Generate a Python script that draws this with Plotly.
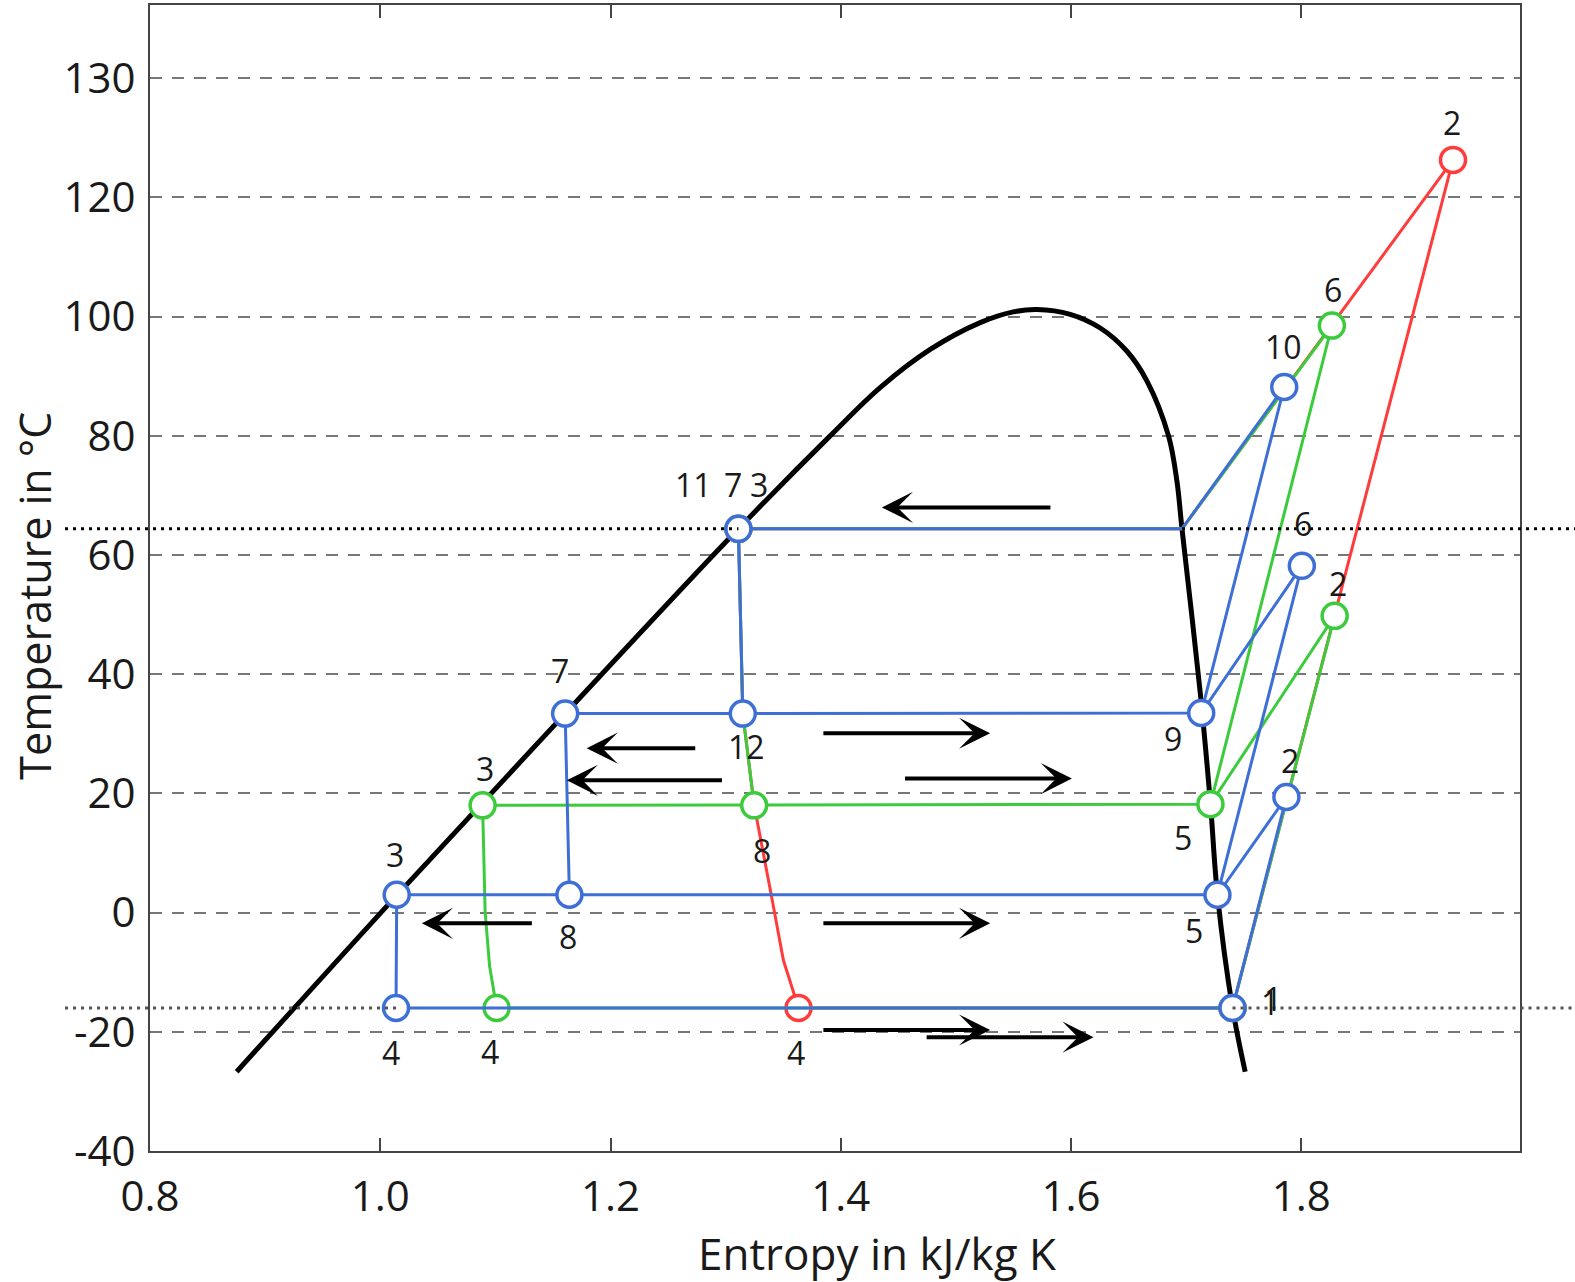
import plotly.graph_objects as go

# ---------------- data ----------------
# saturation dome (liquid branch -> critical point -> vapour branch)
dome_s = [0.8753, 1.0143, 1.1606, 1.3111, 1.3908, 1.4342, 1.4777, 1.5211, 1.5498, 1.5704,
          1.5993, 1.6254, 1.6486, 1.6660, 1.6847, 1.6920, 1.6964, 1.7123, 1.7211,
          1.7272, 1.7403, 1.7513]
dome_T = [-26.7, 2.9, 33.4, 64.4, 80.0, 88.1, 94.5, 99.0, 100.8, 101.2,
          100.4, 98.1, 94.2, 89.2, 80.0, 72.4, 64.4, 36.8, 18.3,
          3.0, -16.0, -26.7]

# state points: single stage (red)
red_id = ['1', '2', '3', '4']
red_s = [1.7403, 1.9318, 1.3111, 1.3633]
red_T = [-16.0, 126.3, 64.4, -16.0]

# two stage (green)
green_id = ['1', '2', '3', '4', '5', '6', '7', '8']
green_s = [1.7403, 1.8290, 1.0889, 1.1011, 1.7211, 1.8266, 1.3111, 1.3248]
green_T = [-16.0, 49.8, 18.0, -16.0, 18.2, 98.5, 64.4, 18.0]

# three stage (blue)
blue_id = ['1', '2', '3', '4', '5', '6', '7', '8', '9', '10', '11', '12']
blue_s = [1.7403, 1.7871, 1.0143, 1.0137, 1.7272, 1.8005, 1.1606, 1.1643, 1.7131, 1.7852, 1.3111, 1.3149]
blue_T = [-16.0, 19.4, 3.0, -16.0, 3.0, 58.2, 33.4, 3.0, 33.5, 88.2, 64.4, 33.4]

# saturated vapour at condensing pressure
cond_vap_s = 1.6964
cond_vap_T = 64.4
# throttling curve from condenser outlet
throttle_s = [1.3149, 1.3248, 1.3394, 1.3502]
throttle_T = [33.4, 18.0, 3.2, -8.0]
# green low-pressure throttling curve
green_exp_s = [1.0911, 1.0950]
green_exp_T = [0.1, -9.0]

x_ticks = [0.8, 1.0, 1.2, 1.4, 1.6, 1.8]
x_ticktext = ['0.8', '1.0', '1.2', '1.4', '1.6', '1.8']
y_ticks = [-40, -20, 0, 20, 40, 60, 80, 100, 120, 140]
y_ticktext = ['-40', '-20', '0', '20', '40', '60', '80', '100', '120', '130']

# ---------------- helpers ----------------
XR = [0.8, 1.99]
YR = [-40, 152.3]
RED = '#FF3B3B'
GREEN = '#3CCB3C'
BLUE = '#3D6FD6'
FONT = 'Open Sans'


def pt(ids, ss, TT, name):
    i = ids.index(name)
    return ss[i], TT[i]


def path(ids, ss, TT, seq):
    xs, ys = [], []
    for p in seq:
        if p is None:
            xs.append(None); ys.append(None)
        elif isinstance(p, tuple):
            xs.append(p[0]); ys.append(p[1])
        else:
            x, y = pt(ids, ss, TT, p)
            xs.append(x); ys.append(y)
    return xs, ys


satv = (cond_vap_s, cond_vap_T)
thr = list(zip(throttle_s, throttle_T))
gexp = list(zip(green_exp_s, green_exp_T))

red_seq = ['1', '2', satv, '3'] + thr + ['4', '1']
green_seq = ['5', '3'] + gexp + ['4', '1', '2', '5', '6', satv, '7', thr[0], '8']
blue_seq = ['5', '8', '7', '12', '9', '6', '5', '2', '1', '4', '3', '8', None,
            '9', '10', satv, '11', '12']

fig = go.Figure()

fig.add_trace(go.Scatter(x=dome_s, y=dome_T, mode='lines',
                         line=dict(color='black', width=5, shape='spline', smoothing=1.0),
                         hoverinfo='skip', showlegend=False))

for ids, ss, TT, seq, col in [(red_id, red_s, red_T, red_seq, RED),
                              (green_id, green_s, green_T, green_seq, GREEN),
                              (blue_id, blue_s, blue_T, blue_seq, BLUE)]:
    px_, py_ = path(ids, ss, TT, seq)
    fig.add_trace(go.Scatter(x=px_, y=py_, mode='lines', line=dict(color=col, width=3),
                             hoverinfo='skip', showlegend=False))
    fig.add_trace(go.Scatter(x=ss, y=TT, mode='markers',
                             marker=dict(size=25, color='white', line=dict(color=col, width=3.5)),
                             hoverinfo='skip', showlegend=False))

# labels: (id, dx, dy) pixel offsets from the state point
red_lab = [('1', 37, -5), ('2', -1, -37), ('3', 21, -44), ('4', -3, 45)]
green_lab = [('1', 40, -9), ('2', 3, -32), ('3', 2, -37), ('4', -7, 44), ('5', -27, 33),
             ('6', 1, -36), ('7', -5, -44), ('8', 8, 45)]
blue_lab = [('2', 4, -37), ('3', -2, -40), ('4', -5, 45), ('5', -23, 36), ('6', 1, -42),
            ('7', -5, -43), ('8', -1, 42), ('9', -28, 26), ('10', -1, -41), ('11', -45, -44),
            ('12', 4, 33)]

annotations = []
for ids, ss, TT, labs in [(red_id, red_s, red_T, red_lab), (green_id, green_s, green_T, green_lab),
                          (blue_id, blue_s, blue_T, blue_lab)]:
    for name, dx, dy in labs:
        x, y = pt(ids, ss, TT, name)
        annotations.append(dict(x=x, y=y, xref='x', yref='y', text=name, showarrow=False,
                                xshift=dx, yshift=-dy, xanchor='center', yanchor='middle',
                                font=dict(family=FONT, size=32, color='#1a1a1a')))

# flow-direction arrows: (tail s, head s, T)
arrows = [(1.5834, 1.4357, 68.0), (1.2749, 1.1793, 27.6), (1.2981, 1.1620, 22.2),
          (1.1330, 1.0361, -1.8), (1.3836, 1.5298, 30.1), (1.4545, 1.6008, 22.5),
          (1.3836, 1.5298, -1.8), (1.3836, 1.5298, -19.7), (1.4733, 1.6196, -20.9)]
for tail, head, T in arrows:
    annotations.append(dict(x=head, y=T, ax=tail, ay=T, xref='x', yref='y', axref='x', ayref='y',
                            text='', showarrow=True, arrowhead=3, arrowsize=1.3, arrowwidth=4,
                            arrowcolor='black', standoff=0, startstandoff=0))

# axis titles
annotations.append(dict(x=0.531, y=-0.0892, xref='paper', yref='paper', text='Entropy in kJ/kg K',
                        showarrow=False, xanchor='center', yanchor='middle',
                        font=dict(family=FONT, size=44, color='#1a1a1a')))
annotations.append(dict(x=-0.084, y=0.4845, xref='paper', yref='paper', text='Temperature in °C',
                        showarrow=False, xanchor='center', yanchor='middle', textangle=-90,
                        font=dict(family=FONT, size=43, color='#1a1a1a')))


def xp(s):
    return (s - XR[0]) / (XR[1] - XR[0])


def yp(T):
    return (T - YR[0]) / (YR[1] - YR[0])


left_px = (65 - 150) / 1370
right_px = (1575 - 150) / 1370
Tc = pt(blue_id, blue_s, blue_T, '11')[1]
Te = pt(blue_id, blue_s, blue_T, '1')[1]
s11 = pt(blue_id, blue_s, blue_T, '11')[0]
s4 = pt(blue_id, blue_s, blue_T, '4')[0]
s1 = pt(blue_id, blue_s, blue_T, '1')[0]
shapes = []
for x0, x1, T, col in [(left_px, xp(s11), Tc, 'black'), (xp(cond_vap_s), right_px, Tc, 'black'),
                       (left_px, xp(s4), Te, '#555555'), (xp(s1), right_px, Te, '#555555')]:
    shapes.append(dict(type='line', xref='paper', yref='paper', x0=x0, x1=x1, y0=yp(T), y1=yp(T),
                       line=dict(color=col, width=3, dash='3px,5px'), layer='above'))

fig.update_layout(
    width=1575, height=1282,
    margin=dict(l=150, r=55, t=3, b=131),
    paper_bgcolor='white', plot_bgcolor='white',
    showlegend=False,
    annotations=annotations,
    shapes=shapes,
    xaxis=dict(range=XR, tickvals=x_ticks, ticktext=x_ticktext, ticks='inside', ticklen=13,
               tickwidth=2, tickcolor='#444', showline=True, linewidth=2, linecolor='#444',
               mirror='ticks', showgrid=False, zeroline=False, ticklabelstandoff=8,
               tickfont=dict(family=FONT, size=42, color='#1a1a1a')),
    yaxis=dict(range=YR, tickvals=y_ticks, ticktext=y_ticktext, ticks='', showline=True,
               linewidth=2, linecolor='#444', mirror=True, showgrid=True, gridcolor='#777777',
               gridwidth=2, griddash='12px,10px', zeroline=False, ticklabelstandoff=4,
               tickfont=dict(family=FONT, size=42, color='#1a1a1a')),
)

fig.write_html('out.html', config={'displayModeBar': False},
               post_script="document.body.style.margin='0';document.body.style.overflow='hidden';")
